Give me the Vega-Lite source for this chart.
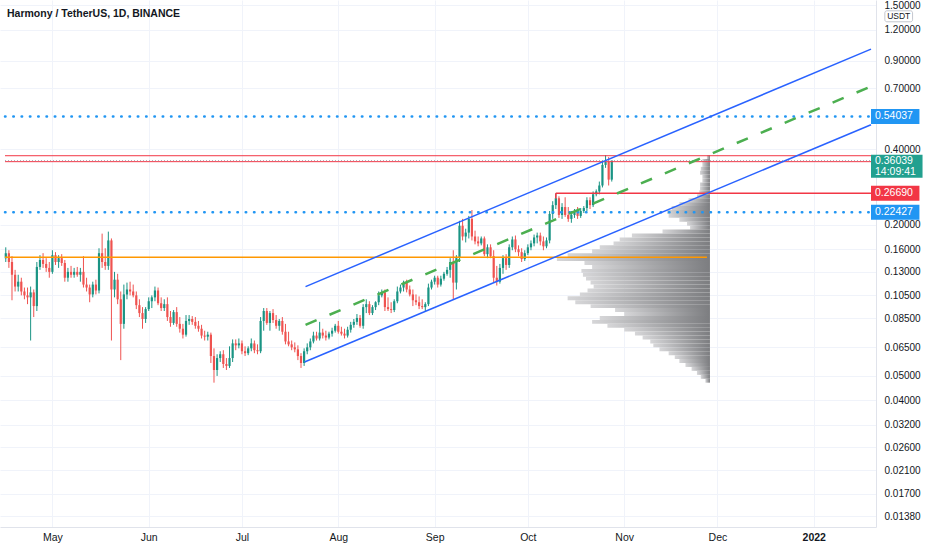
{
  "$schema": "https://vega.github.io/schema/vega-lite/v6.json",
  "width": 876,
  "height": 527,
  "autosize": {"type": "none"},
  "padding": {"left": 0, "top": 0, "right": 56, "bottom": 23},
  "background": "#ffffff",
  "title": {
    "text": "Harmony / TetherUS, 1D, BINANCE",
    "anchor": "start",
    "frame": "group",
    "orient": "top",
    "offset": -24,
    "dx": 7,
    "baseline": "middle",
    "font": "Liberation Sans",
    "fontSize": 10.5,
    "fontWeight": "bold",
    "color": "#131722"
  },
  "config": {"view": {"stroke": null}, "font": "Liberation Sans"},
  "datasets": {
    "candles": [
      {"d": "2021-04-16", "o": 0.1473, "h": 0.1627, "l": 0.1422, "c": 0.1542},
      {"d": "2021-04-17", "o": 0.1542, "h": 0.1584, "l": 0.1347, "c": 0.1422},
      {"d": "2021-04-18", "o": 0.1422, "h": 0.15, "l": 0.1001, "c": 0.1265},
      {"d": "2021-04-19", "o": 0.1265, "h": 0.1323, "l": 0.1085, "c": 0.1135},
      {"d": "2021-04-20", "o": 0.1135, "h": 0.1265, "l": 0.1085, "c": 0.1187},
      {"d": "2021-04-21", "o": 0.1187, "h": 0.1231, "l": 0.1047, "c": 0.1085},
      {"d": "2021-04-22", "o": 0.1085, "h": 0.1125, "l": 0.101, "c": 0.1047},
      {"d": "2021-04-23", "o": 0.1047, "h": 0.1125, "l": 0.0966, "c": 0.1028},
      {"d": "2021-04-24", "o": 0.1028, "h": 0.1135, "l": 0.0692, "c": 0.1076},
      {"d": "2021-04-25", "o": 0.1076, "h": 0.1105, "l": 0.0858, "c": 0.0949},
      {"d": "2021-04-26", "o": 0.0949, "h": 0.1422, "l": 0.0907, "c": 0.1359},
      {"d": "2021-04-27", "o": 0.1359, "h": 0.1514, "l": 0.1323, "c": 0.1448},
      {"d": "2021-04-28", "o": 0.1448, "h": 0.1542, "l": 0.1347, "c": 0.1397},
      {"d": "2021-04-29", "o": 0.1397, "h": 0.1473, "l": 0.1299, "c": 0.1347},
      {"d": "2021-04-30", "o": 0.1347, "h": 0.1422, "l": 0.1231, "c": 0.1299},
      {"d": "2021-05-01", "o": 0.1299, "h": 0.1584, "l": 0.1276, "c": 0.1514},
      {"d": "2021-05-02", "o": 0.1514, "h": 0.1556, "l": 0.1384, "c": 0.1422},
      {"d": "2021-05-03", "o": 0.1422, "h": 0.1514, "l": 0.1347, "c": 0.1473},
      {"d": "2021-05-04", "o": 0.1473, "h": 0.1528, "l": 0.1372, "c": 0.1409},
      {"d": "2021-05-05", "o": 0.1409, "h": 0.1448, "l": 0.1187, "c": 0.1231},
      {"d": "2021-05-06", "o": 0.1231, "h": 0.1347, "l": 0.1187, "c": 0.1299},
      {"d": "2021-05-07", "o": 0.1299, "h": 0.1372, "l": 0.1231, "c": 0.1265},
      {"d": "2021-05-08", "o": 0.1265, "h": 0.1347, "l": 0.1231, "c": 0.1299},
      {"d": "2021-05-09", "o": 0.1299, "h": 0.1359, "l": 0.1242, "c": 0.1265},
      {"d": "2021-05-10", "o": 0.1265, "h": 0.1347, "l": 0.1187, "c": 0.1299},
      {"d": "2021-05-11", "o": 0.1299, "h": 0.15, "l": 0.1125, "c": 0.1156},
      {"d": "2021-05-12", "o": 0.1156, "h": 0.1231, "l": 0.1085, "c": 0.1125},
      {"d": "2021-05-13", "o": 0.1125, "h": 0.1156, "l": 0.0983, "c": 0.1056},
      {"d": "2021-05-14", "o": 0.1056, "h": 0.1187, "l": 0.1028, "c": 0.1156},
      {"d": "2021-05-15", "o": 0.1156, "h": 0.1209, "l": 0.1056, "c": 0.1095},
      {"d": "2021-05-16", "o": 0.1095, "h": 0.1613, "l": 0.1066, "c": 0.1542},
      {"d": "2021-05-17", "o": 0.1542, "h": 0.1845, "l": 0.1347, "c": 0.1422},
      {"d": "2021-05-18", "o": 0.1422, "h": 0.1613, "l": 0.1323, "c": 0.1372},
      {"d": "2021-05-19", "o": 0.1372, "h": 0.1879, "l": 0.1323, "c": 0.1733},
      {"d": "2021-05-20", "o": 0.1733, "h": 0.1765, "l": 0.0692, "c": 0.1105},
      {"d": "2021-05-21", "o": 0.1105, "h": 0.1299, "l": 0.1028, "c": 0.1209},
      {"d": "2021-05-22", "o": 0.1209, "h": 0.1276, "l": 0.0966, "c": 0.101},
      {"d": "2021-05-23", "o": 0.101, "h": 0.1085, "l": 0.0578, "c": 0.0806},
      {"d": "2021-05-24", "o": 0.0806, "h": 0.1156, "l": 0.0771, "c": 0.1056},
      {"d": "2021-05-25", "o": 0.1056, "h": 0.1177, "l": 0.101, "c": 0.1105},
      {"d": "2021-05-26", "o": 0.1105, "h": 0.1187, "l": 0.1047, "c": 0.1085},
      {"d": "2021-05-27", "o": 0.1085, "h": 0.1156, "l": 0.1028, "c": 0.1047},
      {"d": "2021-05-28", "o": 0.1047, "h": 0.1085, "l": 0.0923, "c": 0.0957},
      {"d": "2021-05-29", "o": 0.0957, "h": 0.101, "l": 0.0858, "c": 0.089},
      {"d": "2021-05-30", "o": 0.089, "h": 0.094, "l": 0.0771, "c": 0.0843},
      {"d": "2021-05-31", "o": 0.0843, "h": 0.094, "l": 0.0813, "c": 0.0923},
      {"d": "2021-06-01", "o": 0.0923, "h": 0.1028, "l": 0.0907, "c": 0.0992},
      {"d": "2021-06-02", "o": 0.0992, "h": 0.1047, "l": 0.0932, "c": 0.1028},
      {"d": "2021-06-03", "o": 0.1028, "h": 0.1135, "l": 0.0992, "c": 0.1095},
      {"d": "2021-06-04", "o": 0.1095, "h": 0.1125, "l": 0.0957, "c": 0.0974},
      {"d": "2021-06-05", "o": 0.0974, "h": 0.1028, "l": 0.0907, "c": 0.0932},
      {"d": "2021-06-06", "o": 0.0932, "h": 0.101, "l": 0.0907, "c": 0.0966},
      {"d": "2021-06-07", "o": 0.0966, "h": 0.1028, "l": 0.0828, "c": 0.0858},
      {"d": "2021-06-08", "o": 0.0858, "h": 0.0907, "l": 0.0785, "c": 0.0813},
      {"d": "2021-06-09", "o": 0.0813, "h": 0.0915, "l": 0.0799, "c": 0.0898},
      {"d": "2021-06-10", "o": 0.0898, "h": 0.094, "l": 0.0785, "c": 0.0806},
      {"d": "2021-06-11", "o": 0.0806, "h": 0.0858, "l": 0.0744, "c": 0.0771},
      {"d": "2021-06-12", "o": 0.0771, "h": 0.0806, "l": 0.0705, "c": 0.073},
      {"d": "2021-06-13", "o": 0.073, "h": 0.0874, "l": 0.0717, "c": 0.0828},
      {"d": "2021-06-14", "o": 0.0828, "h": 0.0874, "l": 0.0799, "c": 0.0843},
      {"d": "2021-06-15", "o": 0.0843, "h": 0.0866, "l": 0.0799, "c": 0.0821},
      {"d": "2021-06-16", "o": 0.0821, "h": 0.0858, "l": 0.0771, "c": 0.0792},
      {"d": "2021-06-17", "o": 0.0792, "h": 0.0828, "l": 0.075, "c": 0.0771},
      {"d": "2021-06-18", "o": 0.0771, "h": 0.0799, "l": 0.0705, "c": 0.0724},
      {"d": "2021-06-19", "o": 0.0724, "h": 0.0757, "l": 0.0692, "c": 0.0717},
      {"d": "2021-06-20", "o": 0.0717, "h": 0.075, "l": 0.0692, "c": 0.073},
      {"d": "2021-06-21", "o": 0.073, "h": 0.0744, "l": 0.0563, "c": 0.06},
      {"d": "2021-06-22", "o": 0.06, "h": 0.0644, "l": 0.047, "c": 0.0528},
      {"d": "2021-06-23", "o": 0.0528, "h": 0.061, "l": 0.05, "c": 0.0589},
      {"d": "2021-06-24", "o": 0.0589, "h": 0.0627, "l": 0.0568, "c": 0.061},
      {"d": "2021-06-25", "o": 0.061, "h": 0.0633, "l": 0.0538, "c": 0.0558},
      {"d": "2021-06-26", "o": 0.0558, "h": 0.0589, "l": 0.0528, "c": 0.0548},
      {"d": "2021-06-27", "o": 0.0548, "h": 0.0656, "l": 0.0538, "c": 0.0589},
      {"d": "2021-06-28", "o": 0.0589, "h": 0.0699, "l": 0.0568, "c": 0.0674},
      {"d": "2021-06-29", "o": 0.0674, "h": 0.0699, "l": 0.0633, "c": 0.0662},
      {"d": "2021-06-30", "o": 0.0662, "h": 0.0705, "l": 0.0644, "c": 0.0674},
      {"d": "2021-07-01", "o": 0.0674, "h": 0.0692, "l": 0.061, "c": 0.0627},
      {"d": "2021-07-02", "o": 0.0627, "h": 0.0656, "l": 0.06, "c": 0.0616},
      {"d": "2021-07-03", "o": 0.0616, "h": 0.0656, "l": 0.0605, "c": 0.0644},
      {"d": "2021-07-04", "o": 0.0644, "h": 0.0705, "l": 0.0627, "c": 0.0674},
      {"d": "2021-07-05", "o": 0.0674, "h": 0.0692, "l": 0.0616, "c": 0.0633},
      {"d": "2021-07-06", "o": 0.0633, "h": 0.0668, "l": 0.061, "c": 0.0627},
      {"d": "2021-07-07", "o": 0.0627, "h": 0.0858, "l": 0.0616, "c": 0.0828},
      {"d": "2021-07-08", "o": 0.0828, "h": 0.0932, "l": 0.0757, "c": 0.0907},
      {"d": "2021-07-09", "o": 0.0907, "h": 0.0932, "l": 0.0799, "c": 0.0813},
      {"d": "2021-07-10", "o": 0.0813, "h": 0.0907, "l": 0.0757, "c": 0.089},
      {"d": "2021-07-11", "o": 0.089, "h": 0.0923, "l": 0.0813, "c": 0.0835},
      {"d": "2021-07-12", "o": 0.0835, "h": 0.0874, "l": 0.0771, "c": 0.0792},
      {"d": "2021-07-13", "o": 0.0792, "h": 0.0843, "l": 0.0757, "c": 0.0828},
      {"d": "2021-07-14", "o": 0.0828, "h": 0.0858, "l": 0.073, "c": 0.075},
      {"d": "2021-07-15", "o": 0.075, "h": 0.0806, "l": 0.0668, "c": 0.0686},
      {"d": "2021-07-16", "o": 0.0686, "h": 0.075, "l": 0.0656, "c": 0.0668},
      {"d": "2021-07-17", "o": 0.0668, "h": 0.0692, "l": 0.0633, "c": 0.065},
      {"d": "2021-07-18", "o": 0.065, "h": 0.068, "l": 0.0621, "c": 0.0638},
      {"d": "2021-07-19", "o": 0.0638, "h": 0.0662, "l": 0.0578, "c": 0.06},
      {"d": "2021-07-20", "o": 0.06, "h": 0.0616, "l": 0.0538, "c": 0.0563},
      {"d": "2021-07-21", "o": 0.0563, "h": 0.0644, "l": 0.0548, "c": 0.0627},
      {"d": "2021-07-22", "o": 0.0627, "h": 0.0674, "l": 0.061, "c": 0.065},
      {"d": "2021-07-23", "o": 0.065, "h": 0.0705, "l": 0.0633, "c": 0.0686},
      {"d": "2021-07-24", "o": 0.0686, "h": 0.075, "l": 0.0674, "c": 0.0724},
      {"d": "2021-07-25", "o": 0.0724, "h": 0.075, "l": 0.0692, "c": 0.0705},
      {"d": "2021-07-26", "o": 0.0705, "h": 0.0821, "l": 0.0692, "c": 0.0744},
      {"d": "2021-07-27", "o": 0.0744, "h": 0.0771, "l": 0.0705, "c": 0.0724},
      {"d": "2021-07-28", "o": 0.0724, "h": 0.0757, "l": 0.0692, "c": 0.0711},
      {"d": "2021-07-29", "o": 0.0711, "h": 0.075, "l": 0.0699, "c": 0.0737},
      {"d": "2021-07-30", "o": 0.0737, "h": 0.0778, "l": 0.0717, "c": 0.0757},
      {"d": "2021-07-31", "o": 0.0757, "h": 0.0806, "l": 0.0744, "c": 0.0792},
      {"d": "2021-08-01", "o": 0.0792, "h": 0.0828, "l": 0.0737, "c": 0.075},
      {"d": "2021-08-02", "o": 0.075, "h": 0.0785, "l": 0.0724, "c": 0.0737},
      {"d": "2021-08-03", "o": 0.0737, "h": 0.0771, "l": 0.0705, "c": 0.0724},
      {"d": "2021-08-04", "o": 0.0724, "h": 0.0785, "l": 0.0711, "c": 0.0764},
      {"d": "2021-08-05", "o": 0.0764, "h": 0.0821, "l": 0.0744, "c": 0.0799},
      {"d": "2021-08-06", "o": 0.0799, "h": 0.0843, "l": 0.0778, "c": 0.0821},
      {"d": "2021-08-07", "o": 0.0821, "h": 0.0882, "l": 0.0799, "c": 0.0851},
      {"d": "2021-08-08", "o": 0.0851, "h": 0.0874, "l": 0.0778, "c": 0.0792},
      {"d": "2021-08-09", "o": 0.0792, "h": 0.0966, "l": 0.0771, "c": 0.094},
      {"d": "2021-08-10", "o": 0.094, "h": 0.101, "l": 0.089, "c": 0.0966},
      {"d": "2021-08-11", "o": 0.0966, "h": 0.0992, "l": 0.0874, "c": 0.089},
      {"d": "2021-08-12", "o": 0.089, "h": 0.0957, "l": 0.0874, "c": 0.094},
      {"d": "2021-08-13", "o": 0.094, "h": 0.0992, "l": 0.0915, "c": 0.0983},
      {"d": "2021-08-14", "o": 0.0983, "h": 0.1085, "l": 0.0957, "c": 0.1047},
      {"d": "2021-08-15", "o": 0.1047, "h": 0.1105, "l": 0.1028, "c": 0.1076},
      {"d": "2021-08-16", "o": 0.1076, "h": 0.1105, "l": 0.0907, "c": 0.094},
      {"d": "2021-08-17", "o": 0.094, "h": 0.1028, "l": 0.0907, "c": 0.0923},
      {"d": "2021-08-18", "o": 0.0923, "h": 0.0983, "l": 0.089, "c": 0.0915},
      {"d": "2021-08-19", "o": 0.0915, "h": 0.101, "l": 0.0898, "c": 0.0992},
      {"d": "2021-08-20", "o": 0.0992, "h": 0.1135, "l": 0.0974, "c": 0.1085},
      {"d": "2021-08-21", "o": 0.1085, "h": 0.1156, "l": 0.1066, "c": 0.1125},
      {"d": "2021-08-22", "o": 0.1125, "h": 0.1198, "l": 0.1085, "c": 0.1177},
      {"d": "2021-08-23", "o": 0.1177, "h": 0.1209, "l": 0.1076, "c": 0.1105},
      {"d": "2021-08-24", "o": 0.1105, "h": 0.1146, "l": 0.1037, "c": 0.1056},
      {"d": "2021-08-25", "o": 0.1056, "h": 0.1105, "l": 0.0949, "c": 0.1001},
      {"d": "2021-08-26", "o": 0.1001, "h": 0.1056, "l": 0.0957, "c": 0.0983},
      {"d": "2021-08-27", "o": 0.0983, "h": 0.1037, "l": 0.0923, "c": 0.0949},
      {"d": "2021-08-28", "o": 0.0949, "h": 0.101, "l": 0.0923, "c": 0.094},
      {"d": "2021-08-29", "o": 0.094, "h": 0.0983, "l": 0.0907, "c": 0.0966},
      {"d": "2021-08-30", "o": 0.0966, "h": 0.1166, "l": 0.0949, "c": 0.1125},
      {"d": "2021-08-31", "o": 0.1125, "h": 0.1209, "l": 0.1105, "c": 0.1187},
      {"d": "2021-09-01", "o": 0.1187, "h": 0.1254, "l": 0.1156, "c": 0.1231},
      {"d": "2021-09-02", "o": 0.1231, "h": 0.1254, "l": 0.1125, "c": 0.1156},
      {"d": "2021-09-03", "o": 0.1156, "h": 0.1254, "l": 0.1135, "c": 0.122},
      {"d": "2021-09-04", "o": 0.122, "h": 0.1299, "l": 0.1198, "c": 0.1276},
      {"d": "2021-09-05", "o": 0.1276, "h": 0.1359, "l": 0.1254, "c": 0.1323},
      {"d": "2021-09-06", "o": 0.1323, "h": 0.1473, "l": 0.1231, "c": 0.1422},
      {"d": "2021-09-07", "o": 0.1422, "h": 0.1584, "l": 0.101, "c": 0.1177},
      {"d": "2021-09-08", "o": 0.1177, "h": 0.1514, "l": 0.1105, "c": 0.1473},
      {"d": "2021-09-09", "o": 0.1473, "h": 0.2075, "l": 0.1422, "c": 0.1983},
      {"d": "2021-09-10", "o": 0.1983, "h": 0.2112, "l": 0.1733, "c": 0.1797},
      {"d": "2021-09-11", "o": 0.1797, "h": 0.193, "l": 0.1702, "c": 0.1862},
      {"d": "2021-09-12", "o": 0.1862, "h": 0.217, "l": 0.1765, "c": 0.2112},
      {"d": "2021-09-13", "o": 0.2112, "h": 0.2291, "l": 0.1733, "c": 0.1797},
      {"d": "2021-09-14", "o": 0.1797, "h": 0.1896, "l": 0.1672, "c": 0.1718},
      {"d": "2021-09-15", "o": 0.1718, "h": 0.1797, "l": 0.1642, "c": 0.1687},
      {"d": "2021-09-16", "o": 0.1687, "h": 0.1797, "l": 0.1657, "c": 0.1765},
      {"d": "2021-09-17", "o": 0.1765, "h": 0.1797, "l": 0.15, "c": 0.1528},
      {"d": "2021-09-18", "o": 0.1528, "h": 0.1672, "l": 0.1473, "c": 0.1627},
      {"d": "2021-09-19", "o": 0.1627, "h": 0.1672, "l": 0.1473, "c": 0.15},
      {"d": "2021-09-20", "o": 0.15, "h": 0.1584, "l": 0.1177, "c": 0.1231},
      {"d": "2021-09-21", "o": 0.1231, "h": 0.1372, "l": 0.1146, "c": 0.1187},
      {"d": "2021-09-22", "o": 0.1187, "h": 0.1397, "l": 0.1166, "c": 0.1347},
      {"d": "2021-09-23", "o": 0.1347, "h": 0.1514, "l": 0.1276, "c": 0.1473},
      {"d": "2021-09-24", "o": 0.1473, "h": 0.1528, "l": 0.1323, "c": 0.1384},
      {"d": "2021-09-25", "o": 0.1384, "h": 0.1672, "l": 0.1347, "c": 0.1627},
      {"d": "2021-09-26", "o": 0.1627, "h": 0.1797, "l": 0.1584, "c": 0.1749},
      {"d": "2021-09-27", "o": 0.1749, "h": 0.1813, "l": 0.1556, "c": 0.1598},
      {"d": "2021-09-28", "o": 0.1598, "h": 0.1657, "l": 0.15, "c": 0.1556},
      {"d": "2021-09-29", "o": 0.1556, "h": 0.1613, "l": 0.1422, "c": 0.1461},
      {"d": "2021-09-30", "o": 0.1461, "h": 0.1584, "l": 0.1435, "c": 0.1542},
      {"d": "2021-10-01", "o": 0.1542, "h": 0.1672, "l": 0.1514, "c": 0.1627},
      {"d": "2021-10-02", "o": 0.1627, "h": 0.1733, "l": 0.1584, "c": 0.1687},
      {"d": "2021-10-03", "o": 0.1687, "h": 0.1829, "l": 0.1642, "c": 0.1781},
      {"d": "2021-10-04", "o": 0.1781, "h": 0.1862, "l": 0.1687, "c": 0.1813},
      {"d": "2021-10-05", "o": 0.1813, "h": 0.1862, "l": 0.1657, "c": 0.1718},
      {"d": "2021-10-06", "o": 0.1718, "h": 0.1797, "l": 0.1584, "c": 0.1642},
      {"d": "2021-10-07", "o": 0.1642, "h": 0.1781, "l": 0.1613, "c": 0.1733},
      {"d": "2021-10-08", "o": 0.1733, "h": 0.227, "l": 0.1687, "c": 0.221},
      {"d": "2021-10-09", "o": 0.221, "h": 0.2484, "l": 0.2112, "c": 0.2396},
      {"d": "2021-10-10", "o": 0.2396, "h": 0.267, "l": 0.2312, "c": 0.2552},
      {"d": "2021-10-11", "o": 0.2552, "h": 0.2598, "l": 0.2131, "c": 0.219},
      {"d": "2021-10-12", "o": 0.219, "h": 0.244, "l": 0.2112, "c": 0.2354},
      {"d": "2021-10-13", "o": 0.2354, "h": 0.2575, "l": 0.2151, "c": 0.219},
      {"d": "2021-10-14", "o": 0.219, "h": 0.2354, "l": 0.2056, "c": 0.2112},
      {"d": "2021-10-15", "o": 0.2112, "h": 0.227, "l": 0.2038, "c": 0.219},
      {"d": "2021-10-16", "o": 0.219, "h": 0.2312, "l": 0.2131, "c": 0.227},
      {"d": "2021-10-17", "o": 0.227, "h": 0.2354, "l": 0.2112, "c": 0.217},
      {"d": "2021-10-18", "o": 0.217, "h": 0.2333, "l": 0.2131, "c": 0.227},
      {"d": "2021-10-19", "o": 0.227, "h": 0.2375, "l": 0.223, "c": 0.2333},
      {"d": "2021-10-20", "o": 0.2333, "h": 0.2575, "l": 0.227, "c": 0.2507},
      {"d": "2021-10-21", "o": 0.2507, "h": 0.2575, "l": 0.2312, "c": 0.2396},
      {"d": "2021-10-22", "o": 0.2396, "h": 0.2718, "l": 0.2354, "c": 0.2646},
      {"d": "2021-10-23", "o": 0.2646, "h": 0.2767, "l": 0.2598, "c": 0.2718},
      {"d": "2021-10-24", "o": 0.2718, "h": 0.2974, "l": 0.2646, "c": 0.2869},
      {"d": "2021-10-25", "o": 0.2869, "h": 0.3625, "l": 0.2818, "c": 0.3465},
      {"d": "2021-10-26", "o": 0.3465, "h": 0.3792, "l": 0.3373, "c": 0.356},
      {"d": "2021-10-27", "o": 0.356, "h": 0.3724, "l": 0.2869, "c": 0.3028},
      {"d": "2021-10-28", "o": 0.3028, "h": 0.362, "l": 0.2974, "c": 0.36039}
    ],
    "profile": [
      {"hi": 0.3792, "lo": 0.3658, "vol": 2},
      {"hi": 0.3658, "lo": 0.3529, "vol": 5},
      {"hi": 0.3529, "lo": 0.3404, "vol": 5},
      {"hi": 0.3404, "lo": 0.3284, "vol": 6},
      {"hi": 0.3284, "lo": 0.3168, "vol": 6.5},
      {"hi": 0.3168, "lo": 0.3056, "vol": 5},
      {"hi": 0.3056, "lo": 0.2948, "vol": 5},
      {"hi": 0.2948, "lo": 0.2843, "vol": 6.5},
      {"hi": 0.2843, "lo": 0.2743, "vol": 6.5},
      {"hi": 0.2743, "lo": 0.2646, "vol": 7},
      {"hi": 0.2646, "lo": 0.2552, "vol": 8.5},
      {"hi": 0.2552, "lo": 0.2462, "vol": 14},
      {"hi": 0.2462, "lo": 0.2375, "vol": 20},
      {"hi": 0.2375, "lo": 0.2291, "vol": 25},
      {"hi": 0.2291, "lo": 0.221, "vol": 28},
      {"hi": 0.221, "lo": 0.2132, "vol": 27},
      {"hi": 0.2132, "lo": 0.2057, "vol": 20},
      {"hi": 0.2057, "lo": 0.1984, "vol": 15},
      {"hi": 0.1984, "lo": 0.1914, "vol": 13},
      {"hi": 0.1914, "lo": 0.1846, "vol": 31},
      {"hi": 0.1846, "lo": 0.1781, "vol": 51},
      {"hi": 0.1781, "lo": 0.1718, "vol": 59},
      {"hi": 0.1718, "lo": 0.1657, "vol": 63},
      {"hi": 0.1657, "lo": 0.1599, "vol": 72},
      {"hi": 0.1599, "lo": 0.1542, "vol": 77},
      {"hi": 0.1542, "lo": 0.1488, "vol": 93},
      {"hi": 0.1488, "lo": 0.1435, "vol": 100},
      {"hi": 0.1435, "lo": 0.1384, "vol": 82},
      {"hi": 0.1384, "lo": 0.1335, "vol": 77},
      {"hi": 0.1335, "lo": 0.1288, "vol": 84},
      {"hi": 0.1288, "lo": 0.1243, "vol": 83},
      {"hi": 0.1243, "lo": 0.1199, "vol": 81},
      {"hi": 0.1199, "lo": 0.1156, "vol": 78},
      {"hi": 0.1156, "lo": 0.1115, "vol": 76},
      {"hi": 0.1115, "lo": 0.1076, "vol": 80},
      {"hi": 0.1076, "lo": 0.1038, "vol": 85},
      {"hi": 0.1038, "lo": 0.1001, "vol": 93},
      {"hi": 0.1001, "lo": 0.0966, "vol": 88},
      {"hi": 0.0966, "lo": 0.0932, "vol": 78},
      {"hi": 0.0932, "lo": 0.0899, "vol": 62},
      {"hi": 0.0899, "lo": 0.0867, "vol": 56},
      {"hi": 0.0867, "lo": 0.0836, "vol": 72},
      {"hi": 0.0836, "lo": 0.0807, "vol": 77},
      {"hi": 0.0807, "lo": 0.0778, "vol": 67},
      {"hi": 0.0778, "lo": 0.0751, "vol": 56},
      {"hi": 0.0751, "lo": 0.0724, "vol": 49},
      {"hi": 0.0724, "lo": 0.0699, "vol": 44},
      {"hi": 0.0699, "lo": 0.0674, "vol": 39},
      {"hi": 0.0674, "lo": 0.065, "vol": 37},
      {"hi": 0.065, "lo": 0.0627, "vol": 33},
      {"hi": 0.0627, "lo": 0.0605, "vol": 27},
      {"hi": 0.0605, "lo": 0.0584, "vol": 23},
      {"hi": 0.0584, "lo": 0.0563, "vol": 20},
      {"hi": 0.0563, "lo": 0.0543, "vol": 16},
      {"hi": 0.0543, "lo": 0.0524, "vol": 12},
      {"hi": 0.0524, "lo": 0.0505, "vol": 8.5},
      {"hi": 0.0505, "lo": 0.0487, "vol": 6},
      {"hi": 0.0487, "lo": 0.047, "vol": 3}
    ],
    "channel": [
      {"line": "upper", "t": "2021-07-21T11:00:00Z", "p": 0.1135},
      {"line": "upper", "t": "2022-01-19T10:00:00Z", "p": 1.0023},
      {"line": "lower", "t": "2021-07-21T03:00:00Z", "p": 0.0568},
      {"line": "lower", "t": "2022-01-19T10:00:00Z", "p": 0.5012},
      {"line": "mid", "t": "2021-07-21T11:00:00Z", "p": 0.0799},
      {"line": "mid", "t": "2022-01-19T10:00:00Z", "p": 0.7119}
    ],
    "levels": [
      {"kind": "range", "start": "2021-04-15T18:00:00Z", "end": "2022-01-19T10:00:00Z", "price": 0.377},
      {"kind": "range", "start": "2021-04-15T18:00:00Z", "end": "2022-01-19T10:00:00Z", "price": 0.357},
      {"kind": "zone", "start": "2021-10-10T00:00:00Z", "end": "2022-01-19T10:00:00Z", "price": 0.2669},
      {"kind": "poc", "start": "2021-04-15T18:00:00Z", "end": "2021-11-27T15:00:00Z", "price": 0.1487},
      {"kind": "level", "start": "2021-04-15T18:00:00Z", "end": "2022-01-19T10:00:00Z", "price": 0.54037},
      {"kind": "level", "start": "2021-04-15T18:00:00Z", "end": "2022-01-19T10:00:00Z", "price": 0.22427},
      {"kind": "last", "start": "2021-04-15T18:00:00Z", "end": "2022-01-19T10:00:00Z", "price": 0.36039}
    ],
    "tags": [
      {"kind": "level", "price": 0.54037},
      {"kind": "last", "price": 0.36039},
      {"kind": "zone", "price": 0.2669},
      {"kind": "level", "price": 0.22427}
    ]
  },
  "layer": [
    {
      "data": {"name": "profile"},
      "mark": {
        "type": "rect",
        "color": {
          "gradient": "linear",
          "x1": 0, "y1": 0, "x2": 1, "y2": 0,
          "stops": [{"offset": 0, "color": "#d6d6d8"}, {"offset": 1, "color": "#7c7d80"}]
        }
      },
      "encoding": {
        "x": {"field": "vol", "type": "quantitative", "scale": {"domain": [463.9, -108.5], "nice": false, "zero": false}, "axis": null},
        "x2": {"datum": 0},
        "y": {"field": "lo", "type": "quantitative", "scale": {"type": "log", "domain": [0.01309, 1.5028], "nice": false, "zero": false}},
        "y2": {"field": "hi"}
      }
    },
    {
      "layer": [
        {
          "data": {"name": "candles"},
          "mark": {"type": "rule", "strokeWidth": 1},
          "encoding": {
            "x": {
              "field": "d", "type": "temporal",
              "scale": {"type": "utc", "nice": false, "domain": [{"year": 2021, "month": 4, "date": 15, "hours": 18, "utc": true}, {"year": 2022, "month": 1, "date": 19, "hours": 10, "utc": true}]},
              "axis": {
                "orient": "bottom", "title": null,
                "values": [
                  {"year": 2021, "month": 5, "date": 1, "utc": true},
                  {"year": 2021, "month": 6, "date": 1, "utc": true},
                  {"year": 2021, "month": 7, "date": 1, "utc": true},
                  {"year": 2021, "month": 8, "date": 1, "utc": true},
                  {"year": 2021, "month": 9, "date": 1, "utc": true},
                  {"year": 2021, "month": 10, "date": 1, "utc": true},
                  {"year": 2021, "month": 11, "date": 1, "utc": true},
                  {"year": 2021, "month": 12, "date": 1, "utc": true},
                  {"year": 2022, "month": 1, "date": 1, "utc": true}
                ],
                "labelExpr": "utcFormat(datum.value, '%m') == '01' ? utcFormat(datum.value, '%Y') : utcFormat(datum.value, '%b')",
                "labelFontWeight": {"condition": {"test": "utcFormat(datum.value, '%m') == '01'", "value": "bold"}, "value": "normal"},
                "grid": true, "gridColor": "#f0f3fa", "ticks": false,
                "domainColor": "#e0e3eb", "labelColor": "#131722", "labelFontSize": 10.5,
                "labelPadding": 5, "labelFlush": false, "labelOverlap": false
              }
            },
            "y": {
              "field": "l", "type": "quantitative",
              "scale": {"type": "log", "domain": [0.01309, 1.5028], "nice": false, "zero": false},
              "axis": {
                "orient": "right", "title": null,
                "values": [1.5, 1.2, 0.9, 0.7, 0.4, 0.2, 0.16, 0.13, 0.105, 0.085, 0.065, 0.05, 0.04, 0.032, 0.026, 0.021, 0.017, 0.0138],
                "format": ".5f", "grid": true, "gridColor": "#f0f3fa", "ticks": false,
                "domainColor": "#e0e3eb", "labelColor": "#131722", "labelFontSize": 10,
                "labelPadding": 8, "labelOverlap": false, "labelFlush": false, "labelBound": false
              }
            },
            "y2": {"field": "h"},
            "color": {"condition": {"test": "datum.c >= datum.o", "value": "#1a9484"}, "value": "#ef5350"}
          }
        },
        {
          "data": {"name": "candles"},
          "mark": {"type": "bar", "width": 2.2},
          "encoding": {
            "x": {"field": "d", "type": "temporal"},
            "y": {"field": "o", "type": "quantitative"},
            "y2": {"field": "c"},
            "color": {"condition": {"test": "datum.c >= datum.o", "value": "#1a9484"}, "value": "#ef5350"}
          }
        },
        {
          "data": {"name": "levels"},
          "transform": [{"filter": "datum.kind === 'poc'"}],
          "mark": {"type": "rule", "color": "#ff9800", "strokeWidth": 1.5},
          "encoding": {
            "x": {"field": "start", "type": "temporal"},
            "x2": {"field": "end"},
            "y": {"field": "price", "type": "quantitative"}
          }
        },
        {
          "data": {"name": "levels"},
          "transform": [{"filter": "datum.kind === 'range'"}],
          "mark": {"type": "rule", "color": "#f23645", "strokeWidth": 1},
          "encoding": {
            "x": {"field": "start", "type": "temporal"},
            "x2": {"field": "end"},
            "y": {"field": "price", "type": "quantitative"}
          }
        },
        {
          "data": {"name": "levels"},
          "transform": [{"filter": "datum.kind === 'zone'"}],
          "mark": {"type": "rule", "color": "#f23645", "strokeWidth": 1.5},
          "encoding": {
            "x": {"field": "start", "type": "temporal"},
            "x2": {"field": "end"},
            "y": {"field": "price", "type": "quantitative"}
          }
        },
        {
          "data": {"values": [{}]},
          "mark": {"type": "rule", "color": "#f23645", "strokeWidth": 1.5},
          "encoding": {
            "x": {"datum": {"year": 2021, "month": 10, "date": 10, "utc": true}, "type": "temporal"},
            "y": {"datum": 0.2669, "type": "quantitative"},
            "y2": {"datum": 0.2545}
          }
        },
        {
          "data": {"name": "levels"},
          "transform": [{"filter": "datum.kind === 'last'"}],
          "mark": {"type": "rule", "color": "#a3a6af", "strokeWidth": 1, "strokeDash": [1, 2]},
          "encoding": {
            "x": {"field": "start", "type": "temporal"},
            "x2": {"field": "end"},
            "y": {"field": "price", "type": "quantitative"}
          }
        },
        {
          "data": {"name": "levels"},
          "transform": [{"filter": "datum.kind === 'level'"}],
          "mark": {"type": "rule", "color": "#2196f3", "strokeWidth": 2.5, "strokeCap": "round", "strokeDash": [0.5, 7.8]},
          "encoding": {
            "x": {"field": "start", "type": "temporal"},
            "x2": {"field": "end"},
            "y": {"field": "price", "type": "quantitative"}
          }
        },
        {
          "data": {"name": "channel"},
          "transform": [{"filter": "datum.line !== 'mid'"}],
          "mark": {"type": "line", "color": "#2962ff", "strokeWidth": 1.5},
          "encoding": {
            "x": {"field": "t", "type": "temporal"},
            "y": {"field": "p", "type": "quantitative"},
            "detail": {"field": "line"}
          }
        },
        {
          "data": {"name": "channel"},
          "transform": [{"filter": "datum.line === 'mid'"}],
          "mark": {"type": "line", "color": "#4caf50", "strokeWidth": 2.5, "strokeDash": [12, 14]},
          "encoding": {
            "x": {"field": "t", "type": "temporal"},
            "y": {"field": "p", "type": "quantitative"}
          }
        },
        {
          "data": {"name": "tags"},
          "transform": [{"filter": "datum.kind !== 'last'"}],
          "mark": {"type": "bar", "height": 15},
          "encoding": {
            "x": {"datum": {"year": 2022, "month": 1, "date": 19, "hours": 10, "utc": true}, "type": "temporal"},
            "x2": {"datum": {"year": 2022, "month": 2, "date": 4, "utc": true}},
            "y": {"field": "price", "type": "quantitative"},
            "color": {"field": "kind", "type": "nominal", "scale": {"domain": ["level", "zone"], "range": ["#2196f3", "#f23645"]}, "legend": null}
          }
        },
        {
          "data": {"name": "tags"},
          "transform": [{"filter": "datum.kind === 'last'"}],
          "mark": {"type": "bar", "height": 23, "yOffset": 5.5, "color": "#22a08f"},
          "encoding": {
            "x": {"datum": {"year": 2022, "month": 1, "date": 19, "hours": 10, "utc": true}, "type": "temporal"},
            "x2": {"datum": {"year": 2022, "month": 2, "date": 5, "utc": true}},
            "y": {"field": "price", "type": "quantitative"}
          }
        },
        {
          "data": {"name": "tags"},
          "mark": {"type": "text", "align": "left", "baseline": "middle", "dx": 4, "color": "#ffffff", "fontSize": 10.5, "font": "Liberation Sans"},
          "encoding": {
            "x": {"datum": {"year": 2022, "month": 1, "date": 19, "hours": 10, "utc": true}, "type": "temporal"},
            "y": {"field": "price", "type": "quantitative"},
            "text": {"field": "price", "type": "quantitative", "format": ".5f"}
          }
        },
        {
          "data": {"values": [{}]},
          "mark": {"type": "text", "align": "left", "baseline": "middle", "dx": 4, "dy": 11, "color": "#ffffff", "fontSize": 10.5, "font": "Liberation Sans", "text": "14:09:41"},
          "encoding": {
            "x": {"datum": {"year": 2022, "month": 1, "date": 19, "hours": 10, "utc": true}, "type": "temporal"},
            "y": {"datum": 0.36039, "type": "quantitative"}
          }
        },
        {
          "data": {"values": [{}]},
          "mark": {"type": "bar", "height": 11, "color": "#ffffff", "stroke": "#c4c7cf", "strokeWidth": 1, "cornerRadius": 2},
          "encoding": {
            "x": {"datum": {"year": 2022, "month": 1, "date": 23, "hours": 21, "utc": true}, "type": "temporal"},
            "x2": {"datum": {"year": 2022, "month": 2, "date": 1, "hours": 19, "utc": true}},
            "y": {"datum": 1.355, "type": "quantitative"}
          }
        },
        {
          "data": {"values": [{}]},
          "mark": {"type": "text", "align": "center", "baseline": "middle", "color": "#131722", "fontSize": 8.5, "font": "Liberation Sans", "text": "USDT"},
          "encoding": {
            "x": {"datum": {"year": 2022, "month": 1, "date": 28, "hours": 8, "utc": true}, "type": "temporal"},
            "y": {"datum": 1.355, "type": "quantitative"}
          }
        }
      ]
    }
  ],
  "resolve": {"scale": {"x": "independent"}}
}
